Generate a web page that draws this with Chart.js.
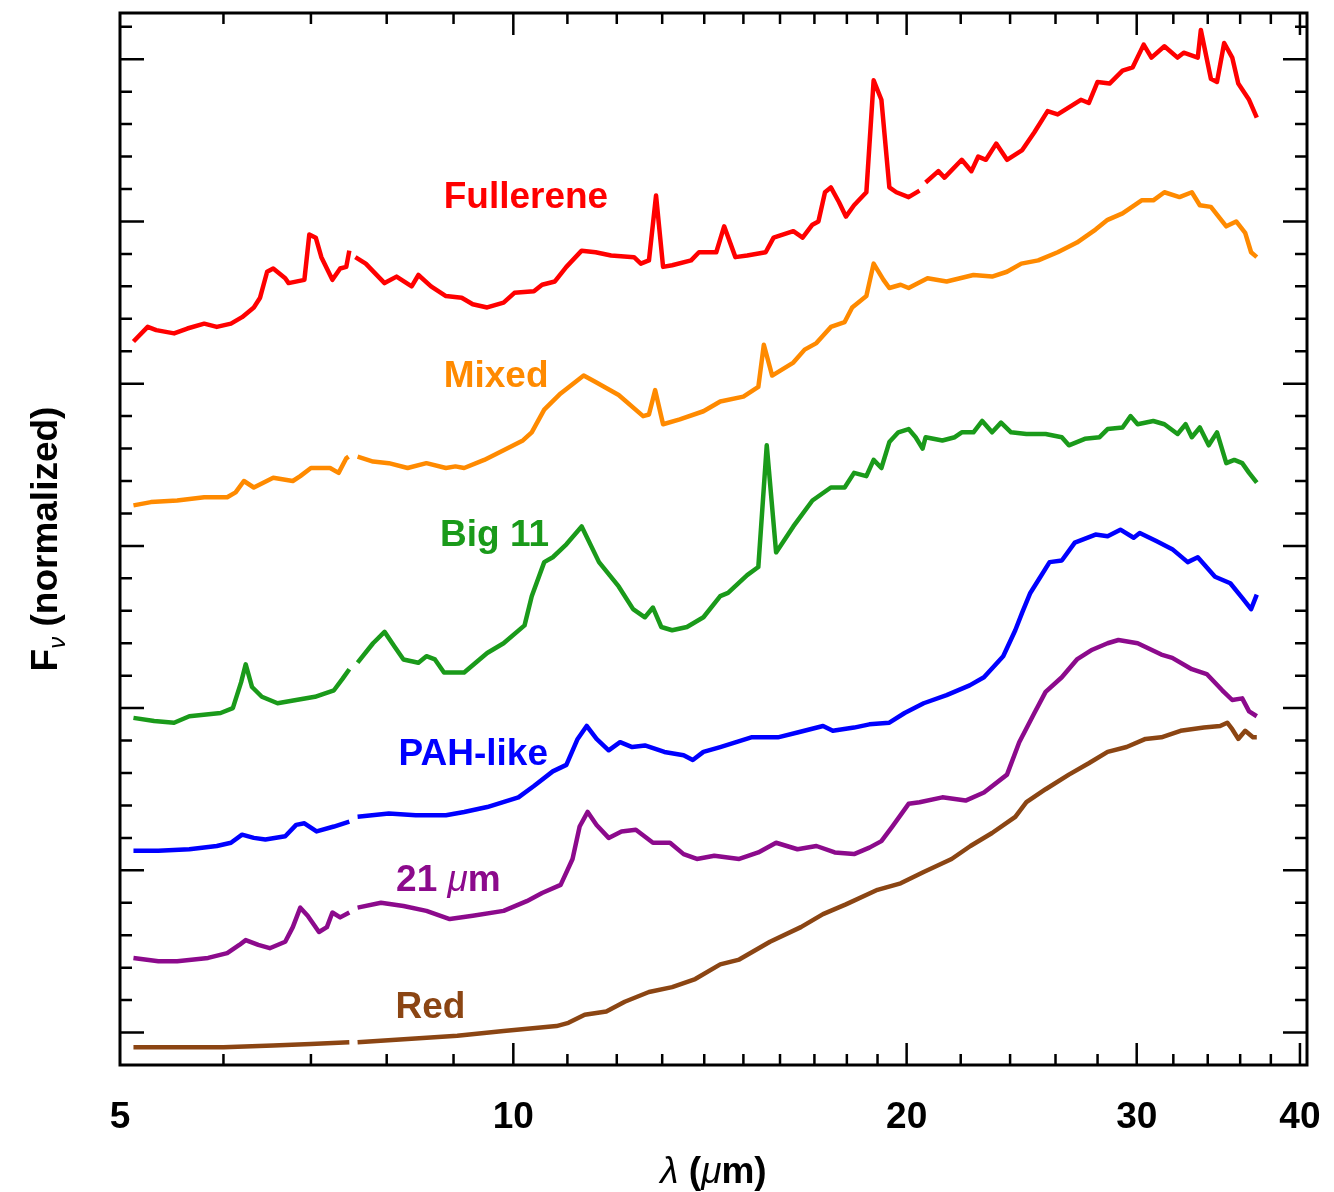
<!DOCTYPE html>
<html>
<head>
<meta charset="utf-8">
<title>Spectral classes</title>
<script src="https://cdn.jsdelivr.net/npm/chart.js@4.4.1/dist/chart.umd.min.js"></script>
<style>
  html, body { margin: 0; padding: 0; background: #ffffff; }
  #wrap { width: 1334px; height: 1192px; position: relative; background: #ffffff; }
</style>
</head>
<body>
<div id="wrap"><canvas id="spectra"></canvas></div>
<script>
// Wavelength grid (micron) and normalized, vertically offset flux for each class.
// A null flux marks the break between the short- and long-wavelength modules.
const fullereneWave = [5.12,5.25,5.33,5.5,5.63,5.8,5.93,6.08,6.2,6.33,6.4,6.48,6.55,6.69,6.73,6.92,6.98,7.06,7.13,7.27,7.37,7.45,7.49,7.53,
  7.57,7.71,7.97,8.14,8.36,8.46,8.65,8.88,9.13,9.31,9.55,9.83,10.02,10.37,10.52,10.76,10.98,11.28,11.56,11.88,12.37,12.52,12.7,12.86,13.02,13.23,13.68,13.87,14.15,14.3,14.5,14.79,15.1,15.6,15.82,16.38,16.65,16.94,17.12,17.32,17.5,17.75,17.97,18.23,18.63,18.87,19.13,19.4,19.64,20.07,20.46,20.57,
  20.68,21.15,21.38,22.04,22.42,22.69,23.0,23.42,23.87,24.52,25.05,25.64,26.1,27.19,27.57,28.0,28.6,29.26,29.79,30.37,30.79,31.5,32.24,32.59,33.41,33.59,34.19,34.56,35.0,35.5,35.88,36.57,37.07];
const fullereneFlux = [4.26,4.35,4.33,4.31,4.34,4.37,4.35,4.37,4.41,4.47,4.53,4.69,4.71,4.65,4.62,4.64,4.92,4.90,4.78,4.64,4.71,4.72,4.82,null,
  4.78,4.74,4.62,4.66,4.60,4.67,4.60,4.54,4.53,4.49,4.47,4.50,4.56,4.57,4.61,4.63,4.72,4.82,4.81,4.79,4.78,4.74,4.76,5.16,4.72,4.73,4.76,4.81,4.81,4.81,4.97,4.78,4.79,4.81,4.90,4.94,4.90,4.98,5.00,5.18,5.21,5.12,5.03,5.10,5.18,5.87,5.75,5.21,5.18,5.15,5.19,null,
  5.24,5.31,5.27,5.38,5.31,5.40,5.38,5.48,5.38,5.44,5.55,5.68,5.66,5.75,5.73,5.86,5.85,5.93,5.95,6.09,6.01,6.08,6.01,6.04,6.01,6.18,5.88,5.86,6.10,6.01,5.85,5.75,5.64];

const mixedWave = [5.12,5.28,5.53,5.8,6.04,6.13,6.22,6.33,6.55,6.78,6.87,7.0,7.24,7.35,7.45,7.48,7.54,
  7.6,7.81,8.03,8.3,8.58,8.88,9.03,9.17,9.5,9.83,10.17,10.33,10.56,10.87,11.32,11.56,12.04,12.57,12.7,12.84,13.02,13.41,13.98,14.4,15.0,15.4,15.55,15.78,16.38,16.71,17.06,17.5,17.93,18.17,18.63,18.87,19.2,19.4,19.79,20.07,20.75,21.46,22.5,23.25,23.87,24.48,25.22,26.1,27.0,27.9,28.5,29.26,30.26,30.89,31.5,32.35,33.06,33.53,34.19,35.13,35.75,36.32,36.7,37.07];
const mixedFlux = [3.25,3.27,3.28,3.30,3.30,3.33,3.40,3.36,3.42,3.40,3.43,3.48,3.48,3.45,3.54,3.55,null,
  3.55,3.52,3.51,3.48,3.51,3.48,3.49,3.48,3.53,3.59,3.65,3.70,3.84,3.94,4.05,4.01,3.93,3.80,3.81,3.96,3.75,3.78,3.83,3.89,3.92,3.98,4.24,4.05,4.13,4.21,4.25,4.35,4.38,4.47,4.54,4.74,4.64,4.59,4.61,4.59,4.65,4.63,4.67,4.66,4.69,4.74,4.76,4.81,4.87,4.95,5.01,5.05,5.13,5.13,5.18,5.15,5.18,5.10,5.09,4.97,5.00,4.93,4.81,4.78];

const big11Wave = [5.12,5.31,5.5,5.65,5.97,6.1,6.19,6.24,6.31,6.42,6.6,6.82,7.05,7.29,7.4,7.49,7.54,
  7.6,7.81,7.97,8.11,8.24,8.46,8.58,8.71,8.85,9.17,9.55,9.83,10.2,10.33,10.56,10.72,10.98,11.28,11.63,12.04,12.35,12.61,12.79,12.98,13.23,13.58,13.98,14.4,14.6,15.1,15.4,15.63,15.89,16.38,16.94,17.5,17.93,18.23,18.63,18.87,19.13,19.4,19.71,20.07,20.32,20.57,20.68,21.3,21.77,22.04,22.5,22.85,23.25,23.62,24.04,24.7,25.55,26.29,26.62,27.38,28.1,28.5,29.26,29.68,30.05,30.89,31.5,32.24,32.7,33.06,33.53,34.06,34.56,35.13,35.63,36.13,36.57,37.07];
const big11Flux = [1.94,1.92,1.91,1.95,1.97,2.00,2.16,2.27,2.13,2.07,2.03,2.05,2.07,2.11,2.18,2.24,null,
  2.28,2.40,2.47,2.38,2.30,2.28,2.32,2.30,2.22,2.22,2.34,2.40,2.51,2.69,2.90,2.93,3.01,3.12,2.90,2.75,2.61,2.56,2.62,2.50,2.48,2.50,2.56,2.69,2.71,2.82,2.87,3.62,2.96,3.12,3.28,3.36,3.36,3.45,3.43,3.53,3.48,3.64,3.70,3.72,3.67,3.60,3.67,3.65,3.67,3.70,3.70,3.77,3.70,3.76,3.70,3.69,3.69,3.67,3.62,3.66,3.67,3.72,3.73,3.80,3.75,3.77,3.75,3.69,3.75,3.67,3.73,3.62,3.70,3.51,3.53,3.51,3.45,3.39];

const pahWave = [5.12,5.35,5.65,5.93,6.08,6.2,6.33,6.46,6.69,6.82,6.92,7.07,7.29,7.49,7.54,
  7.6,8.03,8.42,8.88,9.17,9.55,10.09,10.37,10.72,10.98,11.2,11.38,11.58,11.83,12.07,12.33,12.61,13.05,13.5,13.72,13.98,14.4,15.21,15.94,16.5,17.26,17.56,18.23,18.73,19.4,19.93,20.61,21.46,22.35,22.92,23.71,24.22,24.52,24.87,25.32,25.73,26.29,26.9,27.9,28.5,29.15,29.84,30.16,31.05,31.94,32.82,33.41,34.44,35.38,36.13,36.7,37.07];
const pahFlux = [1.12,1.12,1.13,1.15,1.17,1.22,1.20,1.19,1.21,1.28,1.29,1.24,1.27,1.30,null,
  1.33,1.35,1.34,1.34,1.36,1.39,1.45,1.52,1.61,1.65,1.81,1.89,1.81,1.74,1.79,1.76,1.77,1.73,1.71,1.68,1.73,1.76,1.82,1.82,1.85,1.89,1.86,1.88,1.90,1.91,1.97,2.03,2.08,2.14,2.19,2.32,2.48,2.59,2.71,2.81,2.90,2.91,3.02,3.07,3.06,3.10,3.05,3.08,3.03,2.98,2.90,2.93,2.81,2.77,2.68,2.61,2.70];

const um21Wave = [5.12,5.35,5.53,5.84,6.04,6.17,6.24,6.38,6.51,6.69,6.78,6.87,6.96,7.1,7.2,7.27,7.37,7.49,7.54,
  7.6,7.92,8.24,8.58,8.94,9.31,9.83,10.24,10.52,10.87,11.1,11.24,11.4,11.58,11.83,12.1,12.41,12.79,13.18,13.5,13.82,14.25,14.89,15.4,15.89,16.5,17.06,17.62,18.23,18.73,19.13,19.5,20.07,20.46,21.3,22.19,22.92,23.87,24.39,25.05,25.55,26.29,27.0,27.74,28.5,29.05,30.05,31.33,31.94,33.06,33.94,34.88,35.5,36.13,36.57,37.07];
const um21Flux = [0.46,0.44,0.44,0.46,0.49,0.54,0.57,0.54,0.52,0.56,0.65,0.77,0.72,0.62,0.65,0.74,0.71,0.74,null,
  0.77,0.80,0.78,0.75,0.70,0.72,0.75,0.81,0.86,0.91,1.07,1.27,1.36,1.28,1.20,1.24,1.25,1.17,1.17,1.10,1.07,1.09,1.07,1.11,1.17,1.13,1.15,1.11,1.10,1.14,1.18,1.27,1.41,1.42,1.45,1.43,1.48,1.59,1.79,1.97,2.10,2.19,2.30,2.36,2.40,2.42,2.40,2.33,2.31,2.24,2.21,2.11,2.05,2.06,1.98,1.95];

const redWave = [5.12,5.53,6.0,6.55,7.0,7.49,7.54,
  7.6,8.3,9.06,9.83,10.79,11.02,11.34,11.78,12.17,12.7,13.23,13.78,14.4,14.89,15.72,16.6,17.26,17.97,19.0,19.79,20.61,21.65,22.38,23.25,24.22,24.7,25.55,26.62,27.57,28.5,29.47,30.47,31.33,32.41,33.77,34.75,35.19,35.5,35.88,36.32,36.82,37.07];
const redFlux = [-0.09,-0.09,-0.09,-0.08,-0.07,-0.06,null,
  -0.06,-0.04,-0.02,0.01,0.04,0.06,0.11,0.13,0.19,0.25,0.28,0.33,0.42,0.45,0.56,0.65,0.73,0.79,0.88,0.92,0.99,1.07,1.15,1.23,1.33,1.42,1.50,1.59,1.66,1.73,1.76,1.81,1.82,1.86,1.88,1.89,1.91,1.87,1.81,1.86,1.82,1.82];

const seriesNames = ['Fullerene', 'Mixed', 'Big 11', 'PAH-like', '21 \u03bcm', 'Red'];

// Axis ticks (micron on x, normalized flux on y)
const xTickLabels = [5, 10, 20, 30, 40];
const xMajorTicks = [10, 20, 30, 40];
const xMinorTicks = [6, 7, 8, 9, 11, 12, 13, 14, 15, 16, 17, 18, 19, 22, 24, 26, 28, 32, 34, 36, 38];
const yMajorTicks = [0, 1, 2, 3, 4, 5, 6];
const yMinorTicks = [];
for (let k = 0; k <= 6; k++) {
  for (let m = 1; m <= 4; m++) yMinorTicks.push(+(k + 0.2 * m).toFixed(1));
}

// ---- styling ----
const FONT = '"Liberation Sans", Arial, Helvetica, sans-serif';
const seriesColors = ['#ff0000', '#ff8a00', '#1a9a1a', '#0000ff', '#8c0a8c', '#8b4513'];
const bold = (px) => `bold ${px}px ${FONT}`;
const ital = (px) => `italic ${px}px ${FONT}`;

// where each class name sits (right edge, baseline) in data units
const nameAnchors = [
  { wave: 11.82, flux: 5.08 },
  { wave: 10.64, flux: 3.98 },
  { wave: 10.65, flux: 3.00 },
  { wave: 10.63, flux: 1.65 },
  { wave: 9.78,  flux: 0.87 },
  { wave: 9.19,  flux: 0.09 }
];

const waves = [fullereneWave, mixedWave, big11Wave, pahWave, um21Wave, redWave];
const fluxes = [fullereneFlux, mixedFlux, big11Flux, pahFlux, um21Flux, redFlux];

const datasets = seriesNames.map((name, i) => ({
  label: name,
  data: waves[i].map((w, j) => ({ x: w, y: fluxes[i][j] })),
  borderColor: seriesColors[i],
  backgroundColor: seriesColors[i],
  borderWidth: 4.5,
  pointRadius: 0,
  tension: 0,
  spanGaps: false,
  borderJoinStyle: 'round',
  fill: false
}));

function runsWidth(ctx, runs) {
  let w = 0;
  for (const r of runs) { ctx.font = r.font; w += ctx.measureText(r.text).width; }
  return w;
}
function drawRuns(ctx, runs, x, y, align) {
  const total = runsWidth(ctx, runs);
  let cx = align === 'right' ? x - total : align === 'center' ? x - total / 2 : x;
  for (const r of runs) {
    ctx.font = r.font;
    ctx.fillText(r.text, cx, y + (r.dy || 0));
    cx += ctx.measureText(r.text).width;
  }
}
function nameRuns(name) {
  if (name.indexOf('\u03bc') >= 0) {
    const [a, b] = name.split('\u03bc');
    return [{ text: a, font: bold(37) }, { text: '\u03bc', font: ital(37) }, { text: b, font: bold(37) }];
  }
  return [{ text: name, font: bold(37) }];
}

const framePlugin = {
  id: 'frameAndNames',
  afterDatasetsDraw(chart) {
    const { ctx, chartArea: a, scales: { x, y } } = chart;
    ctx.save();
    ctx.textAlign = 'left';
    ctx.textBaseline = 'alphabetic';
    seriesNames.forEach((name, i) => {
      ctx.fillStyle = seriesColors[i];
      drawRuns(ctx, nameRuns(name), x.getPixelForValue(nameAnchors[i].wave), y.getPixelForValue(nameAnchors[i].flux), 'right');
    });

    ctx.strokeStyle = '#000';
    ctx.lineWidth = 2.5;
    ctx.beginPath();
    const xTick = (v, len) => {
      const p = x.getPixelForValue(v);
      ctx.moveTo(p, a.bottom); ctx.lineTo(p, a.bottom - len);
      ctx.moveTo(p, a.top); ctx.lineTo(p, a.top + len);
    };
    const yTick = (v, len) => {
      const p = y.getPixelForValue(v);
      ctx.moveTo(a.left, p); ctx.lineTo(a.left + len, p);
      ctx.moveTo(a.right, p); ctx.lineTo(a.right - len, p);
    };
    xMinorTicks.forEach(v => xTick(v, 11));
    xMajorTicks.forEach(v => xTick(v, 22));
    yMinorTicks.forEach(v => yTick(v, 12));
    yMajorTicks.forEach(v => yTick(v, 24));
    ctx.stroke();

    ctx.lineWidth = 3;
    ctx.strokeRect(a.left, a.top, a.right - a.left, a.bottom - a.top);
    ctx.restore();
  },
  afterDraw(chart) {
    const { ctx, chartArea: a } = chart;
    ctx.save();
    ctx.fillStyle = '#000';
    ctx.textAlign = 'left';
    ctx.textBaseline = 'alphabetic';
    // x-axis title
    drawRuns(ctx, [
      { text: '\u03bb', font: ital(37) },
      { text: ' (', font: bold(37) },
      { text: '\u03bc', font: ital(37) },
      { text: 'm)', font: bold(37) }
    ], (a.left + a.right) / 2, a.bottom + 118, 'center');
    // y-axis title, rotated
    ctx.translate(57, 539);
    ctx.rotate(-Math.PI / 2);
    drawRuns(ctx, [
      { text: 'F', font: bold(37) },
      { text: '\u03bd', font: ital(24), dy: 8 },
      { text: ' (normalized)', font: bold(37) }
    ], 0, 0, 'center');
    ctx.restore();
  }
};

new Chart(document.getElementById('spectra'), {
  type: 'line',
  data: { datasets },
  options: {
    responsive: true,
    maintainAspectRatio: false,
    animation: false,
    parsing: true,
    layout: { padding: { left: 0, right: 27, top: 13, bottom: 0 } },
    plugins: { legend: { display: false }, tooltip: { enabled: false } },
    scales: {
      x: {
        type: 'logarithmic',
        min: 5,
        max: 40.5,
        position: 'bottom',
        grid: { display: false, drawTicks: false },
        border: { display: false },
        ticks: {
          autoSkip: false, maxRotation: 0, minRotation: 0, padding: 31,
          color: '#000', font: { family: FONT, size: 37, weight: 'bold' },
          callback: (v) => String(v)
        },
        afterBuildTicks: (s) => { s.ticks = xTickLabels.map(v => ({ value: v })); },
        afterFit: (s) => { s.height = 127; s.paddingLeft = 0; s.paddingRight = 0; }
      },
      y: {
        type: 'linear',
        min: -0.2,
        max: 6.285,
        grid: { display: false, drawTicks: false },
        border: { display: false },
        ticks: { display: false },
        afterFit: (s) => { s.width = 120; }
      }
    }
  },
  plugins: [framePlugin]
});
</script>
</body>
</html>
